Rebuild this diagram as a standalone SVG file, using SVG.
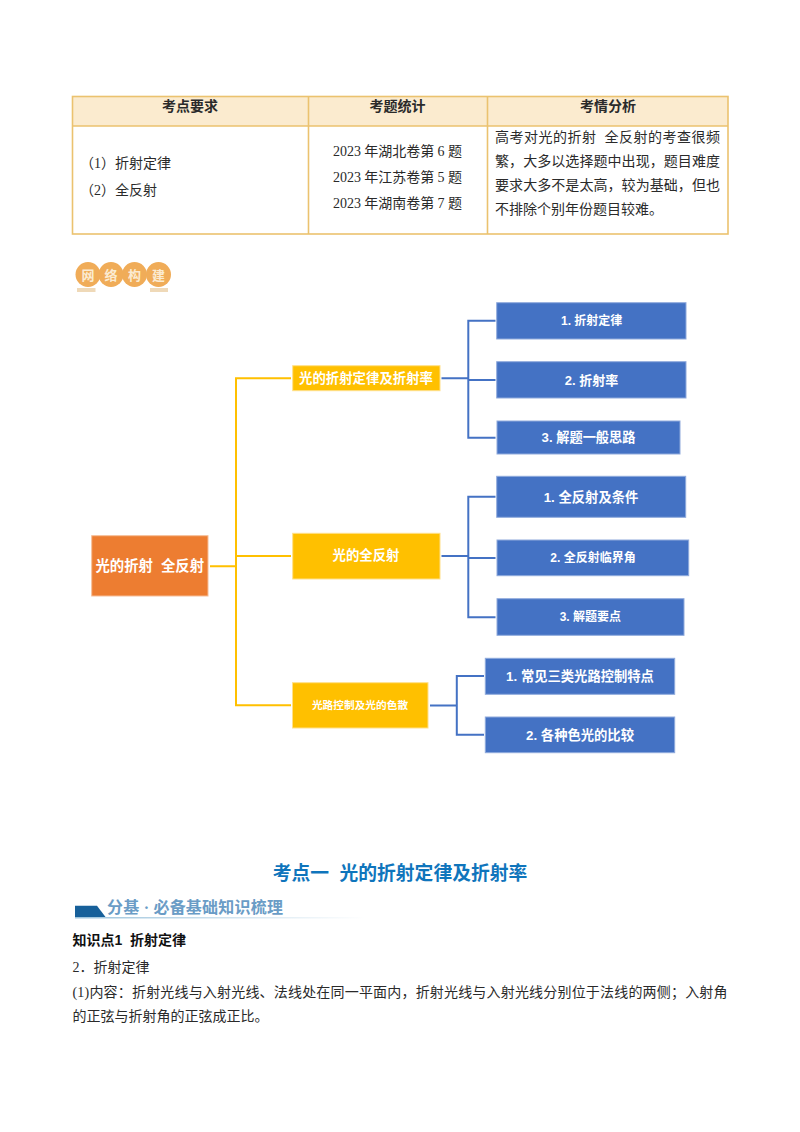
<svg xmlns="http://www.w3.org/2000/svg" width="800" height="1132" viewBox="0 0 800 1132">
<style>
text{font-family:"Liberation Serif","Noto Sans CJK SC",sans-serif;fill:#2a2a2a;font-size:14px}
.c{text-anchor:middle}
.b{font-weight:700;font-family:"Liberation Sans","Noto Sans CJK SC",sans-serif}
.n{font-family:"Liberation Sans","Noto Sans CJK SC",sans-serif;font-weight:700;fill:#fff;text-anchor:middle;dominant-baseline:central}
.blue{fill:#4472C4;stroke:#8FAADC;stroke-width:1}
.yel{fill:#FFC000;stroke:#FFE08A;stroke-width:1}
.org{fill:#ED7D31;stroke:#F6BE98;stroke-width:1}
.lb{fill:none;stroke:#4472C4;stroke-width:2}
.ly{fill:none;stroke:#FFC000;stroke-width:2}
.grid{fill:none;stroke:#EBC26F;stroke-width:1.6}
.ic{fill:#F0AC58}
.ict{font-family:"Noto Sans CJK SC",sans-serif;font-weight:700;font-size:13px;fill:#FBEBD2;text-anchor:middle;dominant-baseline:central}
</style>
<defs>
<linearGradient id="fade" x1="0" x2="1" y1="0" y2="0"><stop offset="0" stop-color="#9CC3DC"/><stop offset="1" stop-color="#9CC3DC" stop-opacity="0"/></linearGradient>
</defs>
<rect width="800" height="1132" fill="#fff"/>

<g id="table">
<rect x="72.5" y="96.5" width="655.5" height="29.500" fill="#FBEBCF"/>
<rect class="grid" x="72.500" y="96.500" width="655.500" height="137.500"/>
<path class="grid" d="M72.500 126H728M308.500 96.500V234M487.500 96.500V234"/>
<text class="c b" x="190" y="111">考点要求</text>
<text class="c b" x="397.500" y="111">考题统计</text>
<text class="c b" x="608" y="111">考情分析</text>
<text x="80" y="168">（1）折射定律</text>
<text x="80" y="195">（2）全反射</text>
<text x="333" y="156" textLength="129">2023 年湖北卷第 6 题</text>
<text x="333" y="182" textLength="129">2023 年江苏卷第 5 题</text>
<text x="333" y="208" textLength="129">2023 年湖南卷第 7 题</text>
<text x="495" y="141.500" textLength="225" xml:space="preserve">高考对光的折射  全反射的考查很频</text>
<text x="495" y="166" textLength="225">繁，大多以选择题中出现，题目难度</text>
<text x="495" y="190" textLength="225">要求大多不是太高，较为基础，但也</text>
<text x="495" y="214">不排除个别年份题目较难。</text>
</g>

<g id="section-badge">
<circle class="ic" cx="88" cy="274.500" r="12.500"/>
<circle class="ic" cx="111" cy="274.500" r="12.500"/>
<circle class="ic" cx="134.500" cy="274.500" r="12.500"/>
<circle class="ic" cx="158.500" cy="274.500" r="12.500"/>
<rect x="77" y="288" width="18.500" height="4" fill="#EFD9B8"/>
<rect x="150" y="288" width="18" height="4" fill="#EFD9B8"/>
<text class="ict" x="88" y="274.500">网</text>
<text class="ict" x="111" y="274.500">络</text>
<text class="ict" x="134.500" y="274.500">构</text>
<text class="ict" x="158.500" y="274.500">建</text>
</g>

<g id="connectors">
<path class="ly" d="M210 566.300H236M291 378.300H236V705.300H291M236 556H291"/>
<path class="lb" d="M441.500 378.300H468.300M495.500 320.800H468.300V437.700H495.500M468.300 380H495.500"/>
<path class="lb" d="M441.500 556H468.300M495.500 496.800H468.300V617.300H495.500M468.300 558H495.500"/>
<path class="lb" d="M430 705.500H456.800M484 676H456.800V734.700H484"/>
</g>

<g id="root"><rect class="org" x="91.700" y="535.700" width="116.300" height="60.300"/><text class="n" x="149.800" y="565.500" style="font-size:14.400px" xml:space="preserve">光的折射  全反射</text></g>
<g id="n1"><rect class="yel" x="292.700" y="365.700" width="147.300" height="25"/><text class="n" x="366" y="378" style="font-size:13.400px">光的折射定律及折射率</text></g>
<g id="n2"><rect class="yel" x="292.700" y="533.300" width="147.300" height="45.700"/><text class="n" x="366" y="555.500" style="font-size:13.400px">光的全反射</text></g>
<g id="n3"><rect class="yel" x="292.500" y="682.700" width="135.500" height="45.300"/><text class="n" x="360" y="705" style="font-size:10.700px">光路控制及光的色散</text></g>

<g id="b1"><rect class="blue" x="496.700" y="302.700" width="189.300" height="36.300"/><text class="n" x="591.700" y="320.500" style="font-size:12px">1. 折射定律</text></g>
<g id="b2"><rect class="blue" x="496.700" y="361.700" width="189.300" height="36.300"/><text class="n" x="591.500" y="380" style="font-size:13px">2. 折射率</text></g>
<g id="b3"><rect class="blue" x="497" y="421" width="183" height="33"/><text class="n" x="588.500" y="437.500" style="font-size:13.200px">3. 解题一般思路</text></g>
<g id="b4"><rect class="blue" x="496.700" y="476.300" width="189" height="41"/><text class="n" x="591" y="497" style="font-size:13.300px">1. 全反射及条件</text></g>
<g id="b5"><rect class="blue" x="497" y="540" width="191.700" height="35.700"/><text class="n" x="593" y="558" style="font-size:12px">2. 全反射临界角</text></g>
<g id="b6"><rect class="blue" x="497" y="598.700" width="187" height="36.600"/><text class="n" x="590.300" y="617" style="font-size:12px">3. 解题要点</text></g>
<g id="b7"><rect class="blue" x="485.300" y="658.300" width="189.400" height="36"/><text class="n" x="580" y="676" style="font-size:13.300px">1. 常见三类光路控制特点</text></g>
<g id="b8"><rect class="blue" x="485.300" y="717" width="189.400" height="35.700"/><text class="n" x="580" y="735" style="font-size:13.300px">2. 各种色光的比较</text></g>

<g id="body">
<text class="c b" x="400" y="880" style="font-size:18.800px;fill:#0F75BC" xml:space="preserve">考点一  光的折射定律及折射率</text>
<path d="M75 905.700H97L105.500 917H75Z" fill="#17609A"/>
<rect x="75" y="917" width="290" height="1.500" fill="url(#fade)"/>
<text x="107" y="913" style="font-size:16px;font-weight:700;fill:#6A9CC6" textLength="176">分基 · 必备基础知识梳理</text>
<text class="b" x="72.500" y="945" style="fill:#111" xml:space="preserve">知识点1  折射定律</text>
<text x="72.500" y="971.500">2．折射定律</text>
<text x="72.500" y="997" textLength="655">(1)内容：折射光线与入射光线、法线处在同一平面内，折射光线与入射光线分别位于法线的两侧；入射角</text>
<text x="72.500" y="1021">的正弦与折射角的正弦成正比。</text>
</g>
</svg>
